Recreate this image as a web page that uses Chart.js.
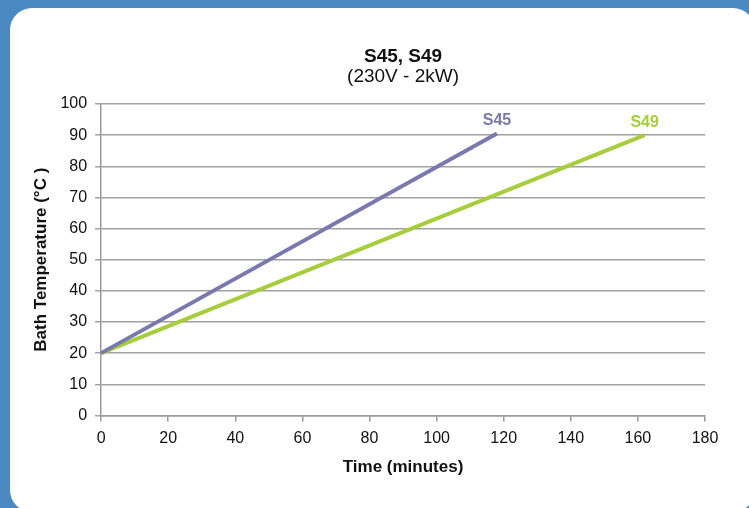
<!DOCTYPE html>
<html>
<head>
<meta charset="utf-8">
<script src="https://cdn.jsdelivr.net/npm/chart.js@4.4.1/dist/chart.umd.min.js"></script>
<style>
    html, body { margin: 0; padding: 0; }
    body { width: 749px; height: 508px; background: #4a89c1; position: relative; overflow: hidden; }
    .panel { position: absolute; left: 10px; top: 8px; width: 745px; height: 504px; background: #fff; border-radius: 22px; }
    .wrap { position: absolute; left: 0; top: 0; width: 749px; height: 508px; }
</style>
</head>
<body>
<div class="panel"></div>
<div class="wrap"><canvas id="heatChart" width="749" height="508"></canvas></div>
<script>
// Heating curves, time (minutes) vs bath temperature (°C)
const seriesNames = ['S45', 'S49'];
const s45Time = [0, 118];
const s45Temp = [20, 90.5];
const s49Time = [0, 162];
const s49Temp = [20, 90];
const xTicks = [0, 20, 40, 60, 80, 100, 120, 140, 160, 180];
const yTicks = [0, 10, 20, 30, 40, 50, 60, 70, 80, 90, 100];

const FONT = '"Liberation Sans", Arial, Helvetica, sans-serif';
const purple = '#7a79ad';
const green = '#a6cd3b';

function toPoints(xs, ys) {
    return xs.map((x, i) => ({ x: x, y: ys[i] }));
}

// Draw series name above the last point of each line
const endLabels = {
    id: 'endLabels',
    afterDatasetsDraw(chart) {
        const ctx = chart.ctx;
        ctx.save();
        ctx.font = 'bold 16px ' + FONT;
        ctx.textAlign = 'center';
        ctx.textBaseline = 'middle';
        chart.data.datasets.forEach((ds, i) => {
            const meta = chart.getDatasetMeta(i);
            const last = meta.data[meta.data.length - 1];
            ctx.fillStyle = ds.borderColor;
            ctx.fillText(ds.label, last.x, last.y - 13);
        });
        ctx.restore();
    }
};

const ctx = document.getElementById('heatChart').getContext('2d');
new Chart(ctx, {
    type: 'line',
    data: {
        datasets: [{
            label: seriesNames[0],
            data: toPoints(s45Time, s45Temp),
            borderColor: purple,
            borderWidth: 4,
            pointRadius: 0,
            tension: 0
        }, {
            label: seriesNames[1],
            data: toPoints(s49Time, s49Temp),
            borderColor: green,
            borderWidth: 4,
            pointRadius: 0,
            tension: 0
        }]
    },
    plugins: [endLabels],
    options: {
        responsive: false,
        animation: false,
        layout: {
            padding: { top: 47, left: 31, right: 44, bottom: 30 }
        },
        plugins: {
            legend: { display: false },
            tooltip: { enabled: false },
            title: {
                display: true,
                text: 'S45, S49',
                fullSize: false,
                color: '#111',
                font: { family: FONT, size: 19, weight: 'bold', lineHeight: 1 },
                padding: { top: 0, bottom: 1 }
            },
            subtitle: {
                display: true,
                text: '(230V - 2kW)',
                fullSize: false,
                color: '#111',
                font: { family: FONT, size: 19, lineHeight: 1 },
                padding: { top: 0, bottom: 18 }
            }
        },
        scales: {
            x: {
                type: 'linear',
                min: 0,
                max: 180,
                afterBuildTicks: axis => { axis.ticks = xTicks.map(v => ({ value: v })); },
                border: { color: '#999', width: 1.5 },
                grid: { drawOnChartArea: false, tickLength: 6, color: '#999', lineWidth: 1.5 },
                ticks: { color: '#111', padding: 8, autoSkip: false, maxRotation: 0, font: { family: FONT, size: 16 } },
                title: {
                    display: true,
                    text: 'Time (minutes)',
                    color: '#111',
                    font: { family: FONT, size: 17, weight: 'bold' },
                    padding: { top: 1, bottom: 0 }
                }
            },
            y: {
                min: 0,
                max: 100,
                afterBuildTicks: axis => { axis.ticks = yTicks.map(v => ({ value: v })); },
                border: { color: '#999', width: 1.5 },
                grid: { color: '#a0a0a0', lineWidth: 1.5, tickLength: 6 },
                ticks: { color: '#111', padding: 8, autoSkip: false, font: { family: FONT, size: 16 } },
                title: {
                    display: true,
                    text: 'Bath Temperature (°C )',
                    color: '#111',
                    font: { family: FONT, size: 17, weight: 'bold' },
                    padding: { top: 0, bottom: 1 }
                }
            }
        }
    }
});
</script>
</body>
</html>
